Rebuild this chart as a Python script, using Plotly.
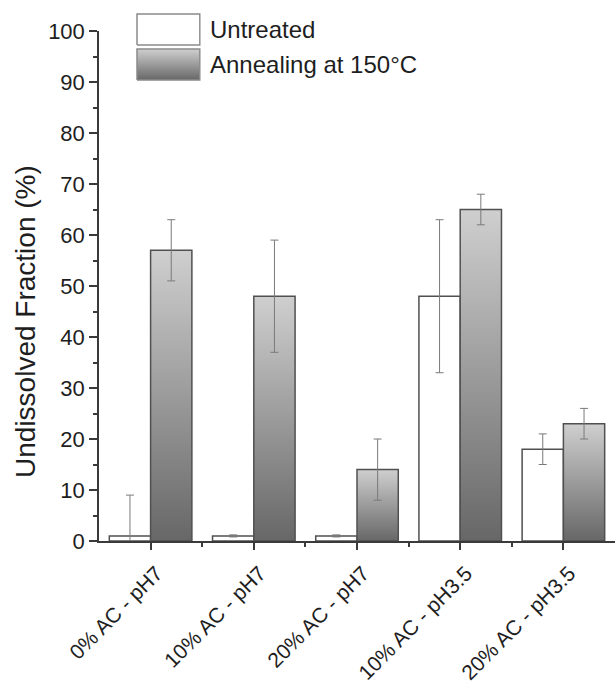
import plotly.graph_objects as go

categories = ["0% AC - pH7", "10% AC - pH7", "20% AC - pH7", "10% AC - pH3.5", "20% AC - pH3.5"]
untreated = [1, 1, 1, 48, 18]
untreated_err = [8, 0.2, 0.2, 15, 3]
annealed = [57, 48, 14, 65, 23]
annealed_err = [6, 11, 6, 3, 3]
y_ticks = [0, 10, 20, 30, 40, 50, 60, 70, 80, 90, 100]
series_names = ["Untreated", "Annealing at 150°C"]
y_title = "Undissolved Fraction (%)"

FONT = "Liberation Sans, Arial, sans-serif"
TXT = "#1e1e1e"
EDGE = "#505050"
AXIS = "#3a3a3a"
ERR = "#7a7a7a"
GRAD = [[0, "#676767"], [1, "#cfcfcf"]]
BAR_W = 0.4
xpos = list(range(len(categories)))

# main plot area occupies the lower part of the paper so a legend panel fits above
MAIN_TOP = 0.9659

fig = go.Figure()

fig.add_trace(go.Bar(
    x=[i - BAR_W / 2 for i in xpos], y=untreated, width=BAR_W, name=series_names[0],
    marker=dict(color="white", line=dict(color=EDGE, width=1.5)),
    error_y=dict(type="data", array=untreated_err, color=ERR, thickness=1, width=4),
    showlegend=False,
))

# Annealed bars: gradient-filled areas derived from the data values
for i, v in enumerate(annealed):
    x0, x1 = xpos[i], xpos[i] + BAR_W
    fig.add_trace(go.Scatter(
        x=[x0, x0, x1, x1, x0], y=[0, v, v, 0, 0], mode="lines",
        fill="toself", fillgradient=dict(type="vertical", colorscale=GRAD),
        line=dict(color=EDGE, width=1.5),
        name=series_names[1], showlegend=False, hoverinfo="skip",
    ))

fig.add_trace(go.Scatter(
    x=[i + BAR_W / 2 for i in xpos], y=annealed, mode="markers",
    marker=dict(size=1, color="rgba(0,0,0,0)"),
    error_y=dict(type="data", array=annealed_err, color=ERR, thickness=1, width=4),
    showlegend=False, name=series_names[1],
))

# Legend panel (swatches on their own small axes, labels as text)
fig.add_trace(go.Scatter(
    x=[0, 0, 63, 63, 0], y=[35, 66, 66, 35, 35], mode="lines", fill="toself",
    fillcolor="white", line=dict(color="#8a8a8a", width=1.5),
    xaxis="x2", yaxis="y2", showlegend=False, hoverinfo="skip",
))
fig.add_trace(go.Scatter(
    x=[0, 0, 63, 63, 0], y=[0, 31, 31, 0, 0], mode="lines", fill="toself",
    fillgradient=dict(type="vertical", colorscale=GRAD),
    line=dict(color="#8a8a8a", width=1.5),
    xaxis="x2", yaxis="y2", showlegend=False, hoverinfo="skip",
))
fig.add_annotation(text=series_names[0], xref="paper", yref="paper", x=0.2112, y=0.9688,
                   xanchor="left", yanchor="middle", showarrow=False, font=dict(size=24))
fig.add_annotation(text=series_names[1], xref="paper", yref="paper", x=0.2112, y=0.9025,
                   xanchor="left", yanchor="middle", showarrow=False, font=dict(size=24))
fig.add_annotation(text=y_title, xref="paper", yref="paper", x=-0.1415, y=0.4167,
                   xanchor="center", yanchor="middle", textangle=-90, showarrow=False,
                   font=dict(size=28))

fig.update_layout(
    width=616, height=695,
    margin=dict(l=99, r=1, t=13, b=154),
    paper_bgcolor="white", plot_bgcolor="rgba(0,0,0,0)",
    font=dict(family=FONT, color=TXT, size=22),
    barmode="overlay",
    showlegend=False,
    xaxis=dict(range=[-0.5, 4.5], tickvals=xpos, ticktext=categories, tickangle=-45,
               showline=True, linecolor=AXIS, linewidth=1.5, ticks="outside",
               ticklen=7, tickcolor=AXIS, tickwidth=1.5, showgrid=False, zeroline=False,
               minor=dict(tickvals=[0.5, 1.5, 2.5, 3.5], ticks="outside", ticklen=4,
                          tickcolor=AXIS, tickwidth=1.5),
               tickfont=dict(size=21), ticklabelshift=6, ticklabelstandoff=3,
               automargin=False, anchor="y"),
    yaxis=dict(range=[0, 100], domain=[0, MAIN_TOP], tickvals=y_ticks, showline=True,
               linecolor=AXIS, linewidth=1.5, ticks="outside", ticklen=8, tickcolor=AXIS,
               tickwidth=1.5, showgrid=False, zeroline=False, automargin=False,
               minor=dict(dtick=5, ticks="outside", ticklen=4, tickcolor=AXIS, tickwidth=1.5),
               tickfont=dict(size=22)),
    xaxis2=dict(domain=[0.0717, 0.1974], range=[-1, 64], visible=False, fixedrange=True,
                anchor="y2"),
    yaxis2=dict(domain=[0.8712, 1.0], range=[-1, 67], visible=False, fixedrange=True,
                anchor="x2"),
)

fig.write_html("out.html", config={"displayModeBar": False},
               post_script="document.body.style.margin='0px';"
                           "document.body.style.overflow='hidden';")
